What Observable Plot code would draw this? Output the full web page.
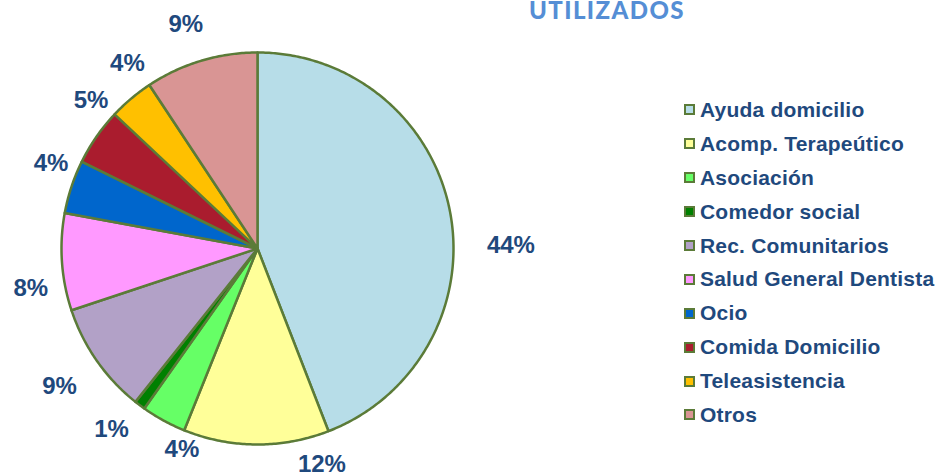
<!DOCTYPE html>
<html>
<head>
<meta charset="utf-8">
<script src="https://cdn.jsdelivr.net/npm/d3@7"></script>
<script src="https://cdn.jsdelivr.net/npm/@observablehq/plot@0.6"></script>
<style>
  html, body { margin: 0; padding: 0; background: #fff; }
  #wrap { position: relative; width: 936px; height: 473px; overflow: hidden; background: #fff; }
  #chart { position: absolute; left: 0; top: 0; }
  #title { position: absolute; left: 497px; top: -2px; width: 220px; text-align: center;
           font-family: Lato, "Open Sans", sans-serif; font-weight: 900; font-size: 24px;
           line-height: 24px; letter-spacing: 1.4px; color: #558ED5; white-space: nowrap; }
  #legend { position: absolute; left: 684px; top: 93px; font-family: "Liberation Sans", Arial, sans-serif;
            font-weight: bold; font-size: 21px; letter-spacing: 0.2px; color: #1F497D; }
  .row { display: flex; align-items: center; height: 33.9px; white-space: nowrap; }
  .sw { width: 7px; height: 7px; border: 2px solid #5B7B38; margin-right: 5px; flex: none; }
</style>
</head>
<body>
<div id="wrap">
  <div id="chart"></div>
  <div id="legend"></div>
  <div id="title">UTILIZADOS</div>
</div>
<script>
const categories = ["Ayuda domicilio", "Acomp. Terapeútico", "Asociación", "Comedor social",
  "Rec. Comunitarios", "Salud General Dentista", "Ocio", "Comida Domicilio", "Teleasistencia", "Otros"];
const values = [44.1, 12.0, 3.7, 0.9, 9.2, 8.0, 4.4, 4.7, 3.7, 9.3];
const colors = ["#B7DDE8", "#FFFF99", "#66FF66", "#008000", "#B2A1C7", "#FF99FF",
  "#0066CC", "#AA1C2E", "#FFC000", "#D99594"];
const titleText = "UTILIZADOS";

// label layout tweaks (as in the reference, where some labels were dragged aside)
const labelTurnDeg = [10, -17, -8, 2, 0, -6, 4, 7, 5, -1];
const labelPushPx  = [25, 4, -5, 10, 18, 8, 0, 0, 4, 16];

const rows = categories.map((c, i) => ({cat: c, value: values[i]}));
const arcs = d3.pie().sort(null).value(d => d.value)(rows);

// polygon outline of each slice in unit coordinates
const pts = [];
for (const a of arcs) {
  const n = Math.max(2, Math.ceil((a.endAngle - a.startAngle) / 0.01));
  pts.push({cat: a.data.cat, x: 0, y: 0});
  for (let k = 0; k <= n; k++) {
    const t = a.startAngle + (a.endAngle - a.startAngle) * k / n;
    pts.push({cat: a.data.cat, x: Math.sin(t), y: Math.cos(t)});
  }
  pts.push({cat: a.data.cat, x: 0, y: 0});
}

// labels placed just outside the pie near each slice's mid-angle
const R = 196, fs = 24;
const lab = arcs.map((a, i) => {
  const t = (a.startAngle + a.endAngle) / 2 + labelTurnDeg[i] * Math.PI / 180;
  const txt = Math.round(a.data.value) + "%";
  const w = txt.length * fs * 0.62, h = fs * 0.75;
  const off = (R + 10 + labelPushPx[i] + Math.abs(Math.sin(t)) * w / 2 + Math.abs(Math.cos(t)) * h / 2) / R;
  return {x: Math.sin(t) * off, y: Math.cos(t) * off, text: txt};
});

const plot = Plot.plot({
  width: 560, height: 473,
  marginLeft: 61, marginRight: 107, marginTop: 52, marginBottom: 29,
  x: {domain: [-1, 1], axis: null},
  y: {domain: [-1, 1], axis: null},
  color: {domain: categories, range: colors},
  style: {background: "transparent", overflow: "visible"},
  marks: [
    Plot.line(pts, {x: "x", y: "y", z: "cat", fill: "cat", stroke: "#5B7B38",
      strokeWidth: 2.5, strokeLinejoin: "round", curve: "linear"}),
    Plot.text(lab, {x: "x", y: "y", text: "text", fill: "#1F497D", fontSize: fs,
      fontWeight: "bold", fontFamily: "Liberation Sans, Arial, sans-serif"})
  ]
});
document.getElementById("chart").appendChild(plot);

const legend = document.getElementById("legend");
categories.forEach((c, i) => {
  const r = document.createElement("div"); r.className = "row";
  const s = document.createElement("div"); s.className = "sw"; s.style.background = colors[i];
  const t = document.createElement("span"); t.textContent = c;
  r.appendChild(s); r.appendChild(t); legend.appendChild(r);
});
document.getElementById("title").textContent = titleText;
</script>
</body>
</html>
